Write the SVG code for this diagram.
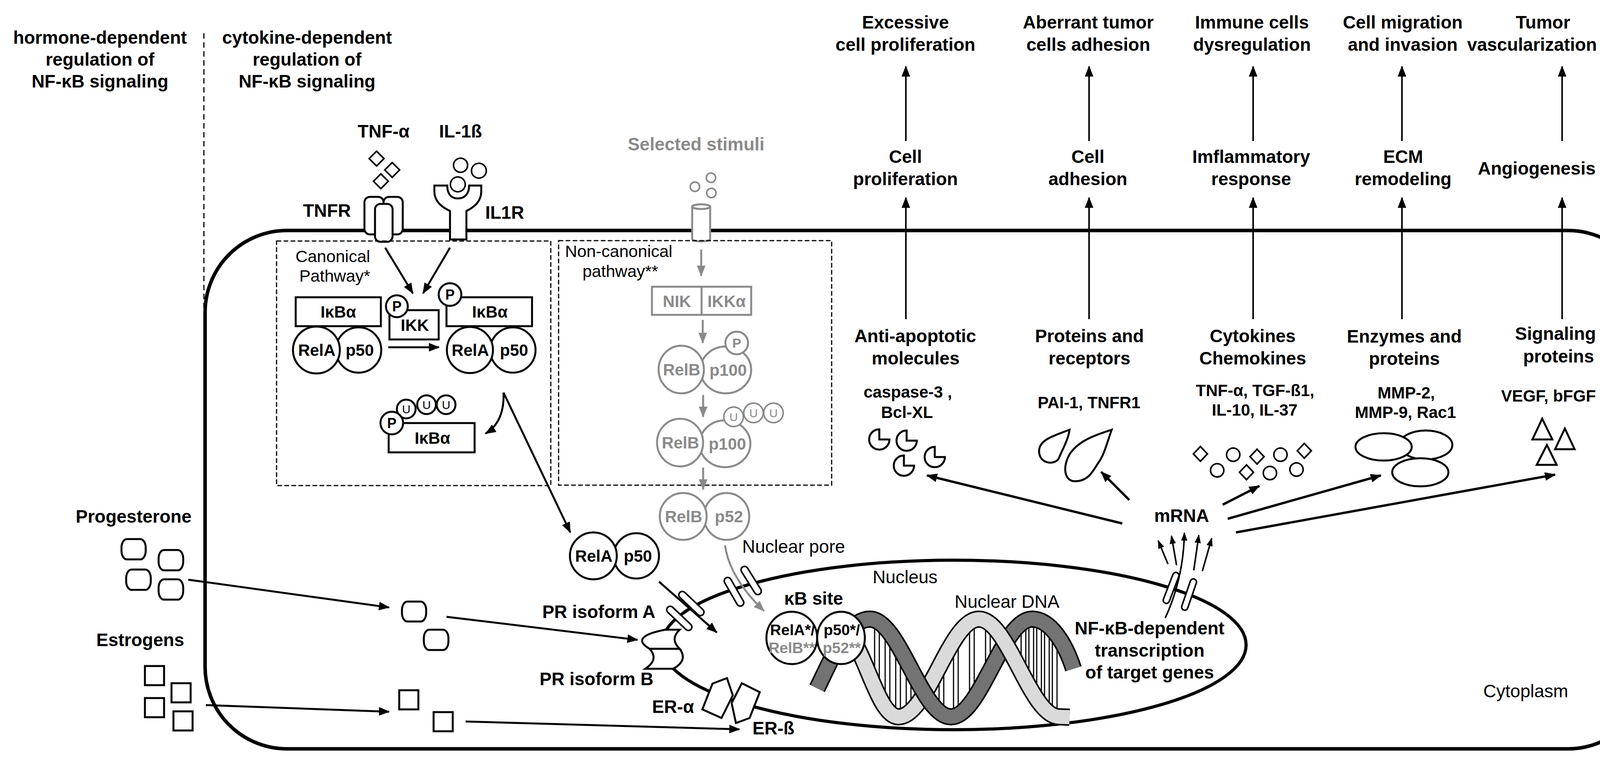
<svg xmlns="http://www.w3.org/2000/svg" width="4269" height="1943" viewBox="0 0 4269 1943">
<defs>
<marker id="ah" viewBox="0 0 28 22" refX="26" refY="11" markerWidth="28" markerHeight="22" orient="auto" markerUnits="userSpaceOnUse"><path d="M0,0 L28,11 L0,22 Z" fill="#000"/></marker>
<marker id="ahg" viewBox="0 0 28 22" refX="26" refY="11" markerWidth="28" markerHeight="22" orient="auto" markerUnits="userSpaceOnUse"><path d="M0,0 L28,11 L0,22 Z" fill="#8a8a8a"/></marker>
<marker id="ahs" viewBox="0 0 22 16" refX="20" refY="8" markerWidth="22" markerHeight="16" orient="auto" markerUnits="userSpaceOnUse"><path d="M0,0 L22,8 L0,16 Z" fill="#000"/></marker>
</defs>
<style>
text{font-family:"Liberation Sans",Arial,Helvetica,sans-serif;text-anchor:middle;fill:#000}
.b{font-weight:bold;font-size:46px}
.r{font-size:46px}
.rs{font-size:43px}
.s{font-weight:bold;font-size:42px}
.k{font-weight:bold;font-size:39px}
.pp{font-weight:bold;font-size:36px}
.uu{font-size:30px}
.g{fill:#8a8a8a}
.sh{fill:#fff;stroke:#000;stroke-width:5}
.shg{fill:#fff;stroke:#8a8a8a;stroke-width:5}
.ar{fill:none;stroke:#000;stroke-width:5;marker-end:url(#ah)}
.arT{fill:none;stroke:#000;stroke-width:4;marker-end:url(#ah)}
.arW{fill:none;stroke:#000;stroke-width:6;marker-end:url(#ah)}
.arS{fill:none;stroke:#000;stroke-width:4;marker-end:url(#ahs)}
.arg{fill:none;stroke:#8a8a8a;stroke-width:5;marker-end:url(#ahg)}
.dash{fill:none;stroke:#000;stroke-width:3;stroke-dasharray:12 6}
.bar{fill:#fff;stroke:#000;stroke-width:3}
</style>
<rect width="4269" height="1943" fill="#fff"/>

<g id="cell">
<rect x="525" y="590" width="3699" height="1327" rx="210" fill="none" stroke="#000" stroke-width="9"/>
<text class="r" x="3906" y="1785">Cytoplasm</text>
</g>
<g id="divider"><line x1="522" y1="85" x2="522" y2="790" stroke="#000" stroke-width="3" stroke-dasharray="14 9"/></g>

<g id="header-hormone">
<text class="b" x="256" y="112">hormone-dependent</text>
<text class="b" x="256" y="168">regulation of</text>
<text class="b" x="256" y="224">NF-κB signaling</text>
</g>
<g id="header-cytokine">
<text class="b" x="786" y="112">cytokine-dependent</text>
<text class="b" x="786" y="168">regulation of</text>
<text class="b" x="786" y="224">NF-κB signaling</text>
</g>

<g id="tnf">
<text class="b" x="982" y="352">TNF-α</text>
<path class="sh" style="stroke-width:4" d="M964,387 L983,406 L964,425 L945,406 Z"/>
<path class="sh" style="stroke-width:4" d="M1004,416 L1023,435 L1004,454 L985,435 Z"/>
<path class="sh" style="stroke-width:4" d="M975,445 L994,464 L975,483 L956,464 Z"/>
</g>
<g id="il1">
<text class="b" x="1179" y="352">IL-1ß</text>
<circle class="sh" style="stroke-width:4" cx="1179" cy="423" r="18"/>
<circle class="sh" style="stroke-width:4" cx="1226" cy="437" r="19"/>
<circle class="sh" style="stroke-width:4" cx="1172" cy="472" r="19"/>
</g>
<g id="tnfr">
<text class="b" x="837" y="555">TNFR</text>
<rect class="sh" x="933" y="504" width="49" height="96" rx="14"/>
<rect class="sh" x="982" y="504" width="49" height="96" rx="14"/>
<rect class="sh" x="960" y="522" width="45" height="97" rx="14"/>
</g>
<g id="il1r">
<text class="b" x="1292" y="560">IL1R</text>
<path class="sh" d="M1112,475 L1145,475 C1145,500 1158,508 1172,508 C1186,508 1201,500 1201,475 L1232,475 L1232,490 C1232,515 1215,530 1194,540 L1194,613 L1152,613 L1152,540 C1130,530 1112,515 1112,490 Z"/>
</g>

<g id="selected-stimuli">
<text class="b g" x="1782" y="385">Selected stimuli</text>
<circle class="shg" style="stroke-width:4" cx="1779" cy="478" r="12"/>
<circle class="shg" style="stroke-width:4" cx="1820" cy="455" r="12"/>
<circle class="shg" style="stroke-width:4" cx="1821" cy="494" r="12"/>
<path class="shg" d="M1772,529 L1772,612 A23,6 0 0 0 1818,612 L1818,529 Z"/>
<ellipse class="shg" cx="1795" cy="529" rx="23" ry="6"/>
</g>

<g id="canonical-pathway">
<rect class="dash" x="708" y="617" width="702" height="626"/>
<text class="rs" x="852" y="671">Canonical</text>
<text class="rs" x="857" y="721">Pathway*</text>
</g>
<g id="ikba-complex-1">
<rect class="sh" x="757" y="761" width="218" height="74"/>
<text class="s" x="866" y="813">IκBα</text>
<circle class="sh" cx="918" cy="896" r="58"/>
<circle class="sh" cx="810" cy="896" r="60"/>
<text class="s" x="811" y="911">RelA</text>
<text class="s" x="921" y="911">p50</text>
</g>
<g id="ikk">
<rect class="sh" x="997" y="794" width="126" height="75"/>
<text class="s" x="1062" y="847">IKK</text>
<circle class="sh" cx="1016" cy="784" r="28"/>
<text class="pp" x="1016" y="797">P</text>
</g>
<g id="ikba-complex-2">
<rect class="sh" x="1143" y="761" width="219" height="74"/>
<text class="s" x="1254" y="813">IκBα</text>
<circle class="sh" cx="1152" cy="754" r="29"/>
<text class="pp" x="1152" y="767">P</text>
<circle class="sh" cx="1313" cy="896" r="58"/>
<circle class="sh" cx="1203" cy="896" r="59"/>
<text class="s" x="1204" y="911">RelA</text>
<text class="s" x="1316" y="911">p50</text>
</g>
<g id="ikba-degraded">
<circle class="sh" cx="1142" cy="1036" r="24"/>
<circle class="sh" cx="1092" cy="1036" r="24"/>
<circle class="sh" cx="1040" cy="1047" r="24"/>
<text class="uu" x="1142" y="1047">U</text>
<text class="uu" x="1092" y="1047">U</text>
<text class="uu" x="1040" y="1058">U</text>
<rect class="sh" x="995" y="1083" width="220" height="75"/>
<text class="s" x="1107" y="1136">IκBα</text>
<circle class="sh" cx="1003" cy="1083" r="29"/>
<text class="pp" x="1003" y="1096">P</text>
</g>

<g id="noncanonical-pathway">
<rect class="dash" x="1430" y="616" width="699" height="626"/>
<text class="rs" x="1584" y="658">Non-canonical</text>
<text class="rs" x="1588" y="709">pathway**</text>
</g>
<g id="nik-ikka">
<rect class="shg" x="1669" y="734" width="254" height="72"/>
<line x1="1796" y1="734" x2="1796" y2="806" stroke="#8a8a8a" stroke-width="5"/>
<text class="s g" x="1733" y="786">NIK</text>
<text class="s g" x="1860" y="786">IKKα</text>
</g>
<g id="relb-p100-p">
<ellipse class="shg" cx="1858" cy="947" rx="65" ry="60"/>
<ellipse class="shg" cx="1744" cy="946" rx="58" ry="61"/>
<circle class="shg" cx="1886" cy="878" r="29"/>
<text class="s g" x="1745" y="961">RelB</text>
<text class="s g" x="1864" y="962">p100</text>
<text class="pp g" style="font-size:34px" x="1886" y="890">P</text>
</g>
<g id="relb-p100-u">
<ellipse class="shg" cx="1856" cy="1136" rx="65" ry="60"/>
<ellipse class="shg" cx="1741" cy="1133" rx="59" ry="61"/>
<circle class="shg" style="stroke-width:4" cx="1980" cy="1057" r="25"/>
<circle class="shg" style="stroke-width:4" cx="1929" cy="1057" r="25"/>
<circle class="shg" style="stroke-width:4" cx="1878" cy="1067" r="25"/>
<text class="uu g" x="1980" y="1068">U</text>
<text class="uu g" x="1929" y="1068">U</text>
<text class="uu g" x="1878" y="1078">U</text>
<text class="s g" x="1742" y="1148">RelB</text>
<text class="s g" x="1862" y="1151">p100</text>
</g>
<g id="relb-p52">
<ellipse class="shg" cx="1860" cy="1322" rx="58" ry="60"/>
<ellipse class="shg" cx="1749" cy="1322" rx="60" ry="60"/>
<text class="s g" x="1750" y="1337">RelB</text>
<text class="s g" x="1866" y="1337">p52</text>
</g>
<g id="rela-p50-free">
<circle class="sh" cx="1629" cy="1423" r="58"/>
<circle class="sh" cx="1519" cy="1423" r="60"/>
<text class="s" x="1520" y="1438">RelA</text>
<text class="s" x="1633" y="1438">p50</text>
</g>

<g id="nucleus">
<ellipse cx="2442" cy="1651" rx="748" ry="217" fill="none" stroke="#000" stroke-width="8"/>
<text class="r" x="2317" y="1493">Nucleus</text>
<text class="r" x="2578" y="1556">Nuclear DNA</text>
<text class="b" x="2083" y="1548">κB site</text>
<text class="b" x="2943" y="1624">NF-κB-dependent</text>
<text class="b" x="2943" y="1681">transcription</text>
<text class="b" x="2943" y="1737">of target genes</text>
<text class="r" x="1900" y="1415" style="text-anchor:start">Nuclear pore</text>
</g>
<g id="dna">
<rect class="bar" x="2239" y="1590" width="12" height="204"/>
<rect class="bar" x="2266" y="1613" width="12" height="211"/>
<rect class="bar" x="2293" y="1652" width="12" height="183"/>
<rect class="bar" x="2320" y="1701" width="12" height="124"/>
<rect class="bar" x="2404" y="1697" width="12" height="129"/>
<rect class="bar" x="2441" y="1632" width="12" height="201"/>
<rect class="bar" x="2482" y="1590" width="12" height="206"/>
<rect class="bar" x="2523" y="1593" width="12" height="135"/>
<rect class="bar" x="2614" y="1592" width="12" height="139"/>
<rect class="bar" x="2634" y="1585" width="12" height="182"/>
<rect class="bar" x="2654" y="1590" width="12" height="208"/>
<rect class="bar" x="2674" y="1606" width="12" height="214"/>
<rect class="bar" x="2694" y="1630" width="12" height="203"/>
<path d="M2160,1612 C2210,1640 2245,1835 2300,1835 C2375,1835 2431,1585 2506,1585" fill="none" stroke="#000" stroke-width="44"/>
<path d="M2160,1612 C2210,1640 2245,1835 2300,1835 C2375,1835 2431,1585 2506,1585" fill="none" stroke="#dadada" stroke-width="36"/>
<path d="M2092,1762 C2132,1680 2170,1585 2227,1585 C2302.6,1585 2358.9,1835 2434.5,1835 C2510.1,1835 2566.4,1585 2642,1585 C2690,1585 2728,1650 2748,1712" fill="none" stroke="#000" stroke-width="44"/>
<path d="M2092,1762 C2132,1680 2170,1585 2227,1585 C2302.6,1585 2358.9,1835 2434.5,1835 C2510.1,1835 2566.4,1585 2642,1585 C2690,1585 2728,1650 2748,1712" fill="none" stroke="#737373" stroke-width="36"/>
<path d="M2506,1585 C2581,1585 2637,1835 2712,1835 L2738,1836" fill="none" stroke="#000" stroke-width="44"/>
<path d="M2506,1585 C2581,1585 2637,1835 2712,1835 L2738,1836" fill="none" stroke="#dadada" stroke-width="36"/>
</g>
<g id="kb-site-dimer">
<ellipse class="sh" cx="2027" cy="1633" rx="65" ry="67"/>
<ellipse class="sh" cx="2153" cy="1633" rx="61" ry="67"/>
<text class="k" x="2029" y="1626">RelA*/</text>
<text class="k g" x="2027" y="1672">RelB**</text>
<text class="k" x="2155" y="1626">p50*/</text>
<text class="k g" x="2155" y="1672">p52**</text>
</g>
<g id="nuclear-pores">
<rect class="sh" style="stroke-width:4" x="-41" y="-9" width="82" height="18" rx="9" transform="translate(1739,1583) rotate(43.5)"/>
<rect class="sh" style="stroke-width:4" x="-41" y="-9" width="82" height="18" rx="9" transform="translate(1770,1545) rotate(43.5)"/>
<rect class="sh" style="stroke-width:4" x="-41" y="-9" width="82" height="18" rx="9" transform="translate(1879,1515) rotate(60)"/>
<rect class="sh" style="stroke-width:4" x="-41" y="-9" width="82" height="18" rx="9" transform="translate(1923,1486) rotate(58)"/>
<rect class="sh" style="stroke-width:4" x="-42" y="-8" width="84" height="16" rx="8" transform="translate(2998,1505) rotate(-69)"/>
<rect class="sh" style="stroke-width:4" x="-42" y="-8" width="84" height="16" rx="8" transform="translate(3044,1522) rotate(-71)"/>
</g>
<g id="pr-isoforms">
<path class="sh" d="M1703,1612 L1740,1612 Q1714,1636 1740,1661 L1663,1661 Q1610,1630 1703,1612 Z"/>
<path class="sh" d="M1663,1661 L1740,1661 Q1762,1690 1724,1712 L1652,1712 Q1688,1688 1663,1661 Z"/>
<text class="b" x="1533" y="1582">PR isoform A</text>
<text class="b" x="1527" y="1754">PR isoform B</text>
</g>
<g id="er-isoforms">
<path class="sh" d="M1824,1750 L1861,1736 L1876,1780 L1847,1838 L1798,1816 Z"/>
<path class="sh" d="M1899,1749 L1945,1772 L1919,1838 L1884,1851 L1873,1800 Z"/>
<text class="b" x="1723" y="1825">ER-α</text>
<text class="b" x="1980" y="1880">ER-ß</text>
</g>

<g id="progesterone">
<text class="b" x="342" y="1338">Progesterone</text>
<rect class="sh" x="311" y="1380" width="62" height="52" rx="14" ry="22"/>
<rect class="sh" x="406" y="1408" width="63" height="52" rx="14" ry="22"/>
<rect class="sh" x="323" y="1458" width="63" height="52" rx="14" ry="22"/>
<rect class="sh" x="406" y="1483" width="63" height="52" rx="14" ry="22"/>
<rect class="sh" x="1029" y="1540" width="62" height="51" rx="14" ry="22"/>
<rect class="sh" x="1085" y="1612" width="63" height="52" rx="14" ry="22"/>
</g>
<g id="estrogens">
<text class="b" x="359" y="1654">Estrogens</text>
<rect class="sh" x="371" y="1705" width="49" height="49"/>
<rect class="sh" x="439" y="1749" width="49" height="49"/>
<rect class="sh" x="371" y="1787" width="49" height="49"/>
<rect class="sh" x="444" y="1821" width="49" height="49"/>
<rect class="sh" x="1022" y="1767" width="49" height="49"/>
<rect class="sh" x="1110" y="1823" width="49" height="49"/>
</g>

<g id="mrna"><text class="b" x="3025" y="1336">mRNA</text></g>

<g id="anti-apoptotic">
<text class="b" x="2343" y="876">Anti-apoptotic</text>
<text class="b" x="2344" y="933">molecules</text>
<text class="s" x="2324" y="1018">caspase-3 ,</text>
<text class="s" x="2322" y="1070">Bcl-XL</text>
<path class="sh" d="M2251,1125 L2277,1125 A26,26 0 1 1 2251,1099 Z"/>
<path class="sh" d="M2321,1128 L2347,1128 A26,26 0 1 1 2321,1102 Z"/>
<path class="sh" d="M2393,1170 L2419,1170 A26,26 0 1 1 2393,1144 Z"/>
<path class="sh" d="M2314,1192 L2340,1192 A26,26 0 1 1 2314,1166 Z"/>
</g>
<g id="proteins-receptors">
<text class="b" x="2789" y="876">Proteins and</text>
<text class="b" x="2789" y="933">receptors</text>
<text class="s" x="2788" y="1045">PAI-1, TNFR1</text>
<path class="sh" d="M2738,1100 C2700,1115 2660,1125 2660,1155 C2660,1190 2705,1192 2712,1170 C2720,1150 2735,1125 2738,1100 Z"/>
<path class="sh" d="M2846,1100 C2810,1112 2765,1125 2740,1160 C2718,1195 2725,1232 2752,1232 C2790,1232 2800,1200 2815,1180 C2828,1160 2835,1130 2846,1100 Z"/>
</g>
<g id="cytokines">
<text class="b" x="3207" y="876">Cytokines</text>
<text class="b" x="3207" y="933">Chemokines</text>
<text class="s" x="3213" y="1014">TNF-α, TGF-ß1,</text>
<text class="s" x="3212" y="1064">IL-10, IL-37</text>
<path class="sh" style="stroke-width:4" d="M3073,1143 L3091,1162 L3073,1181 L3055,1162 Z"/>
<path class="sh" style="stroke-width:4" d="M3218,1150 L3236,1169 L3218,1188 L3200,1169 Z"/>
<path class="sh" style="stroke-width:4" d="M3191,1190 L3209,1209 L3191,1228 L3173,1209 Z"/>
<path class="sh" style="stroke-width:4" d="M3339,1135 L3357,1154 L3339,1173 L3321,1154 Z"/>
<circle class="sh" style="stroke-width:4" cx="3157" cy="1164" r="17"/>
<circle class="sh" style="stroke-width:4" cx="3116" cy="1204" r="17"/>
<circle class="sh" style="stroke-width:4" cx="3278" cy="1164" r="17"/>
<circle class="sh" style="stroke-width:4" cx="3251" cy="1211" r="17"/>
<circle class="sh" style="stroke-width:4" cx="3319" cy="1202" r="17"/>
</g>
<g id="enzymes">
<text class="b" x="3595" y="877">Enzymes and</text>
<text class="b" x="3595" y="934">proteins</text>
<text class="s" x="3600" y="1020">MMP-2,</text>
<text class="s" x="3598" y="1070">MMP-9, Rac1</text>
<ellipse class="sh" cx="3650" cy="1139" rx="68" ry="37"/>
<ellipse class="sh" cx="3542" cy="1144" rx="72" ry="35"/>
<ellipse class="sh" cx="3636" cy="1209" rx="72" ry="36"/>
</g>
<g id="signaling-proteins">
<text class="b" x="3982" y="870">Signaling</text>
<text class="b" x="3990" y="928">proteins</text>
<text class="s" x="3964" y="1028">VEGF, bFGF</text>
<path class="sh" d="M3948,1072 L3974,1125 L3923,1125 Z"/>
<path class="sh" d="M4006,1097 L4031,1150 L3981,1150 Z"/>
<path class="sh" d="M3960,1139 L3985,1190 L3934,1190 Z"/>
</g>

<g id="processes">
<text class="b" x="2318" y="417">Cell</text>
<text class="b" x="2318" y="474">proliferation</text>
<text class="b" x="2785" y="417">Cell</text>
<text class="b" x="2785" y="474">adhesion</text>
<text class="b" x="3203" y="417">Imflammatory</text>
<text class="b" x="3203" y="474">response</text>
<text class="b" x="3592" y="417">ECM</text>
<text class="b" x="3592" y="474">remodeling</text>
<text class="b" x="3934" y="447">Angiogenesis</text>
</g>
<g id="outcomes">
<text class="b" x="2318" y="73">Excessive</text>
<text class="b" x="2318" y="130">cell proliferation</text>
<text class="b" x="2786" y="73">Aberrant tumor</text>
<text class="b" x="2786" y="130">cells adhesion</text>
<text class="b" x="3205" y="73">Immune cells</text>
<text class="b" x="3205" y="130">dysregulation</text>
<text class="b" x="3591" y="73">Cell migration</text>
<text class="b" x="3591" y="130">and invasion</text>
<text class="b" x="3950" y="73">Tumor</text>
<text class="b" x="3922" y="130">vascularization</text>
</g>

<g id="connectors">
<line class="arT" x1="2319" y1="361" x2="2319" y2="170"/>
<line class="arT" x1="2788" y1="361" x2="2788" y2="170"/>
<line class="arT" x1="3208" y1="361" x2="3208" y2="170"/>
<line class="arT" x1="3589" y1="361" x2="3589" y2="170"/>
<line class="arT" x1="3999" y1="361" x2="3999" y2="170"/>
<line class="arT" x1="2319" y1="817" x2="2319" y2="506"/>
<line class="arT" x1="2788" y1="817" x2="2788" y2="506"/>
<line class="arT" x1="3208" y1="817" x2="3208" y2="506"/>
<line class="arT" x1="3589" y1="817" x2="3589" y2="506"/>
<line class="arT" x1="3999" y1="817" x2="3999" y2="506"/>
<line class="arW" x1="2873" y1="1340" x2="2373" y2="1217"/>
<line class="arW" x1="2891" y1="1280" x2="2819" y2="1208"/>
<line class="arW" x1="3130" y1="1292" x2="3224" y2="1244"/>
<line class="arW" x1="3143" y1="1328" x2="3535" y2="1217"/>
<line class="arW" x1="3164" y1="1363" x2="3981" y2="1215"/>
<path class="arS" d="M2983,1582 Q3030,1480 3032,1364"/>
<path class="arS" d="M2990,1444 L2965,1384"/>
<path class="arS" d="M3012,1447 L2999,1372"/>
<path class="arS" d="M3056,1460 L3069,1370"/>
<path class="arS" d="M3078,1462 L3102,1378"/>
<line class="ar" x1="986" y1="634" x2="1057" y2="751"/>
<line class="ar" x1="1152" y1="634" x2="1083" y2="751"/>
<line class="ar" x1="994" y1="889" x2="1124" y2="889"/>
<path class="ar" d="M1289,1005 Q1292,1080 1243,1110"/>
<line class="ar" x1="1289" y1="1005" x2="1460" y2="1363"/>
<line class="ar" x1="1687" y1="1489" x2="1835" y2="1619"/>
<line class="arg" x1="1795" y1="639" x2="1795" y2="706"/>
<line class="arg" x1="1799" y1="819" x2="1799" y2="878"/>
<line class="arg" x1="1800" y1="1011" x2="1800" y2="1067"/>
<line class="arg" x1="1800" y1="1197" x2="1800" y2="1253"/>
<path class="arg" d="M1856,1396 Q1868,1480 1956,1564"/>
<line class="ar" x1="482" y1="1484" x2="996" y2="1555"/>
<line class="ar" x1="1143" y1="1579" x2="1632" y2="1638"/>
<line class="ar" x1="527" y1="1805" x2="996" y2="1822"/>
<line class="ar" x1="1192" y1="1847" x2="1893" y2="1867"/>
</g>
</svg>
